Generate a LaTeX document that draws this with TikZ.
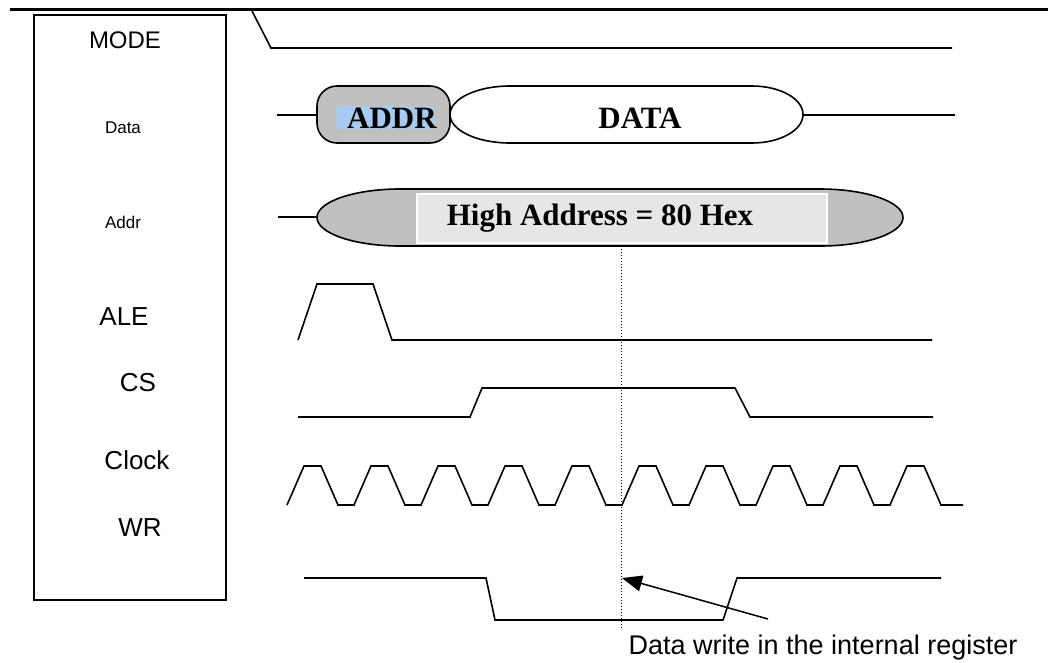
\documentclass[tikz,border=0pt]{standalone}
\usepackage{fontspec}
\setmainfont{Liberation Sans}
\newfontfamily\tnr{Liberation Serif}
\usetikzlibrary{arrows.meta}
\definecolor{busgray}{HTML}{C0C0C0}
\definecolor{boxgray}{HTML}{E6E6E6}
\definecolor{hiblue}{HTML}{A6CAF0}

\begin{document}
\begin{tikzpicture}[x=1pt,y=-1pt,
	sig/.style={draw,line width=1.6pt},
	biglabel/.style={inner sep=0pt,font=\fontsize{26}{26}\selectfont},
	smalllabel/.style={inner sep=0pt,font=\fontsize{17}{17}\selectfont},
	busname/.style={inner sep=0pt,font=\tnr\bfseries\fontsize{31}{31}\selectfont},
	bus/.style={draw,line width=1.6pt,fill=busgray}]

	\useasboundingbox (0,0) rectangle (1048,662);

	% frame
	\draw[line width=3pt] (10,9.5) -- (1048,9.5);
	\draw[line width=2pt] (34,15) rectangle (226,600);

	\node [smalllabel,font=\fontsize{24}{24}\selectfont] (mode) at (125,40) {MODE};
	\node [smalllabel] (data) at (123,128) {Data};
	\node [smalllabel] (addr) at (123,222) {Addr};
	\node [biglabel] (ale) at (124,317) {ALE};
	\node [biglabel] (cs) at (138,383) {CS};
	\node [biglabel] (clock) at (137,460) {Clock};
	\node [biglabel] (wr) at (140,528) {WR};

	% MODE
	\draw[sig] (252,11) -- (271,48) -- (952,48);

	% Data bus
	\draw[sig] (277,115) -- (317,115);
	\draw[sig] (803,115) -- (955,115);
	\draw[bus,rounded corners=20pt] (317,86) rectangle (450,143);
	\draw[sig,fill=white] (510,86) -- (752,86)
		arc[start angle=-90,end angle=90,x radius=51,y radius=28.5] -- (510,143)
		arc[start angle=90,end angle=270,x radius=60,y radius=28.5] -- cycle;
	\fill[hiblue] (337,106) rectangle (434,129);
	\node [busname] (addrtxt) at (392,118) {ADDR};
	\node [busname] (datatxt) at (640,118) {DATA};

	% Addr bus
	\draw[sig] (278,217) -- (317,217);
	\draw[bus] (400,189) -- (820,189)
		arc[start angle=-90,end angle=90,x radius=83,y radius=28.5] -- (400,246)
		arc[start angle=90,end angle=270,x radius=83,y radius=28.5] -- cycle;
	\draw[fill=boxgray,draw=white,line width=1.5pt] (417,194) rectangle (827,243);
	\node [busname] (hiaddr) at (600,218) {High Address = 80 Hex};

	% ALE
	\draw[sig] (298,340) -- (317,284) -- (373,284) -- (392,340) -- (932,340);
	% CS
	\draw[sig] (298,417) -- (470,417) -- (482,388) -- (735,388) -- (750,417) -- (933,417);
	% Clock
	\draw[sig] (287,505) \foreach \k in {1,...,10} {-- ++(17,-39) -- ++(17,0) -- ++(17,39) -- ++(16,0)} -- ++(6,0);
	% WR
	\draw[sig] (304,578) -- (486,578) -- (495,620) -- (723,620) -- (737,578) -- (941,578);

	% write point
	\draw[dotted,line width=1pt] (621,246) -- (621,630);
	\coordinate (wrpt) at (622,578);
	\coordinate (wrtail) at (768,619);
	\draw[line width=1.5pt,-{Triangle[length=20pt,width=16pt]}] (wrtail) -- (wrpt);
	\node [inner sep=0pt,font=\fontsize{27}{27}\selectfont] (note) at (823,648) {Data write in the internal register};
\end{tikzpicture}
\end{document}
